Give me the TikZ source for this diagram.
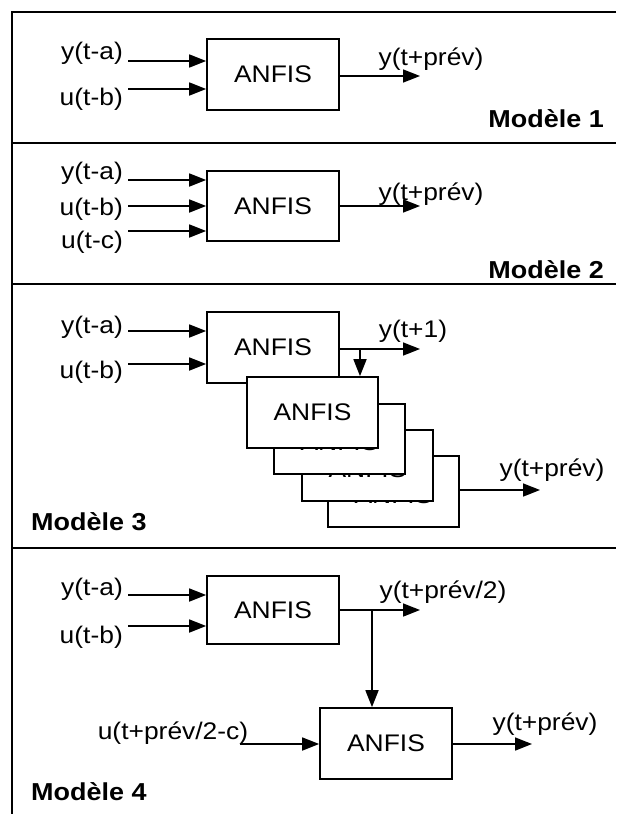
\documentclass[tikz,border=0pt]{standalone}
\usepackage{fontspec}
\setmainfont{Liberation Sans}[FakeStretch=1.1]
\usetikzlibrary{arrows.meta}
\begin{document}
\begin{tikzpicture}[x=1pt,y=-1pt,
  font=\fontsize{24}{28}\selectfont,
  every node/.style={inner sep=0pt},
  anfis/.style={draw,line width=1.7pt,fill=white,minimum width=132pt,minimum height=71pt,inner sep=0pt},
  arr/.style={line width=1.7pt,-{Triangle[length=17pt,width=13pt]}},
  frameline/.style={line width=1.7pt},
  titletext/.style={font=\fontsize{24.5}{28}\selectfont\bfseries}
]
\useasboundingbox (0,0) rectangle (616,814);
% frame
\draw[frameline] (616,12) -- (12,12) -- (12,814);
\draw[frameline] (12,143) -- (616,143);
\draw[frameline] (12,284) -- (616,284);
\draw[frameline] (12,548) -- (616,548);

% Model 1
\node[anfis] (m1b) at (273,74.5) {ANFIS};
\node[anchor=east] (m1ya) at (123,53.5) {y(t-a)};
\node[anchor=east] (m1ub) at (123,99) {u(t-b)};
\coordinate (m1s1) at (128,61);
\coordinate (m1s2) at (128,89);
\draw[arr] (m1s1) -- (m1b.west |- m1s1);
\draw[arr] (m1s2) -- (m1b.west |- m1s2);
\coordinate (m1o) at (420,76);
\draw[arr] (m1b.east |- m1o) -- (m1o);
\node (m1yo) at (431,59) {y(t+prév)};
\node[titletext,anchor=base east] (m1t) at (604,127) {Modèle 1};

% Model 2
\node[anfis,minimum height=70pt] (m2b) at (273,206) {ANFIS};
\node[anchor=east] (m2ya) at (123,173) {y(t-a)};
\node[anchor=east] (m2ub) at (123,209) {u(t-b)};
\node[anchor=east] (m2uc) at (123,242) {u(t-c)};
\coordinate (m2s1) at (128,180);
\coordinate (m2s2) at (128,206);
\coordinate (m2s3) at (128,231);
\draw[arr] (m2s1) -- (m2b.west |- m2s1);
\draw[arr] (m2s2) -- (m2b.west |- m2s2);
\draw[arr] (m2s3) -- (m2b.west |- m2s3);
\coordinate (m2o) at (420,206);
\draw[arr] (m2b.east |- m2o) -- (m2o);
\node (m2yo) at (431,194) {y(t+prév)};
\node[titletext,anchor=base east] (m2t) at (604,278) {Modèle 2};

% Model 3
\node[anfis] (m3b1) at (273,347.5) {ANFIS};
\node[anchor=east] (m3ya) at (123,327) {y(t-a)};
\node[anchor=east] (m3ub) at (123,372) {u(t-b)};
\coordinate (m3s1) at (128,331);
\coordinate (m3s2) at (128,364);
\draw[arr] (m3s1) -- (m3b1.west |- m3s1);
\draw[arr] (m3s2) -- (m3b1.west |- m3s2);
\node[anfis,minimum width=131pt] (m3b5) at (393.5,491.5) {};
\node[anchor=south] (m3t5) at (393.5,504) {ANFIS};
\node[anfis,minimum width=131pt] (m3b4) at (367.5,465.5) {};
\node[anchor=south] (m3t4) at (367.5,477.5) {ANFIS};
\node[anfis,minimum width=131pt,minimum height=70pt] (m3b3) at (339.5,439) {};
\node[anchor=south] (m3t3) at (339.5,451) {ANFIS};
\node[anfis,minimum width=131pt] (m3b2) at (312.5,412.5) {ANFIS};
\coordinate (m3o1) at (420,349);
\draw[arr] (m3b1.east |- m3o1) -- (m3o1);
\coordinate (m3j) at (360,349);
\draw[arr] (m3j) -- (m3j |- m3b2.north);
\node (m3y1) at (413,331) {y(t+1)};
\coordinate (m3o2) at (540,490);
\draw[arr] (m3b5.east |- m3o2) -- (m3o2);
\node (m3yo) at (552,470) {y(t+prév)};
\node[titletext,anchor=base west] (m3t) at (31,530) {Modèle 3};

% Model 4
\node[anfis,minimum height=68pt] (m4b1) at (273,610) {ANFIS};
\node[anchor=east] (m4ya) at (123,589) {y(t-a)};
\node[anchor=east] (m4ub) at (123,637) {u(t-b)};
\coordinate (m4s1) at (128,595);
\coordinate (m4s2) at (128,626);
\draw[arr] (m4s1) -- (m4b1.west |- m4s1);
\draw[arr] (m4s2) -- (m4b1.west |- m4s2);
\coordinate (m4o1) at (420,610);
\draw[arr] (m4b1.east |- m4o1) -- (m4o1);
\node (m4y2) at (443,592) {y(t+prév/2)};
\node[anfis] (m4b2) at (386,743.5) {ANFIS};
\coordinate (m4j) at (372,610);
\draw[arr] (m4j) -- (m4j |- m4b2.north);
\node (m4uc) at (173,733) {u(t+prév/2-c)};
\coordinate (m4s3) at (240,744);
\draw[arr] (m4s3) -- (m4b2.west |- m4s3);
\coordinate (m4o2) at (532,744);
\draw[arr] (m4b2.east |- m4o2) -- (m4o2);
\node (m4yo) at (545,724) {y(t+prév)};
\node[titletext,anchor=base west] (m4t) at (31,800) {Modèle 4};
\end{tikzpicture}
\end{document}
